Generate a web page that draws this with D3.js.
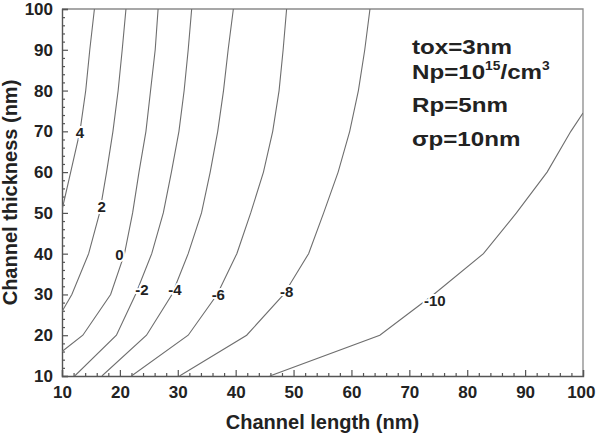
<!DOCTYPE html>
<html>
<head>
<meta charset="utf-8">
<script src="https://cdn.jsdelivr.net/npm/d3@7"></script>
<style>
  body { margin: 0; background: #fff; }
  svg text { font-family: "Liberation Sans", Arial, sans-serif; font-weight: bold; fill: #222; }
</style>
</head>
<body>
<div id="chart"></div>
<script>
// contour levels and their curves as [channel length, channel thickness] pairs (nm)
const levels = ["4", "2", "0", "-2", "-4", "-6", "-8", "-10"];
const curve4 = [[10, 50.7], [11.5, 60], [13.1, 70], [14.1, 80], [14.8, 90], [15.6, 100]];
const curve2 = [[10, 25.8], [11.7, 30], [14.6, 40], [16.5, 50], [17.7, 60], [18.8, 70], [19.7, 80], [20.4, 90], [21.05, 100]];
const curve0 = [[10, 16], [13.6, 20], [18.4, 30], [20.8, 40], [22.2, 50], [23.3, 60], [24.5, 70], [25.3, 80], [26.1, 90], [26.6, 100]];
const curveM2 = [[12.2, 10], [19.4, 20], [22.7, 30], [25.5, 40], [27.5, 50], [28.9, 60], [30.2, 70], [31.1, 80], [31.8, 90], [32.4, 100]];
const curveM4 = [[16.9, 10], [24.6, 20], [29.0, 30], [31.8, 40], [34.1, 50], [35.6, 60], [36.9, 70], [37.9, 80], [38.7, 90], [39.6, 100]];
const curveM6 = [[22.0, 10], [31.8, 20], [36.8, 30], [40.2, 40], [42.6, 50], [44.8, 60], [46.4, 70], [47.5, 80], [48.2, 90], [48.8, 100]];
const curveM8 = [[30.3, 10], [41.9, 20], [48.3, 30], [52.6, 40], [55.2, 50], [57.7, 60], [59.7, 70], [61.2, 80], [62.3, 90], [63.2, 100]];
const curveM10 = [[45.9, 10], [64.9, 20], [74.2, 30], [82.8, 40], [88.5, 50], [93.8, 60], [97.9, 70], [100, 74.5]];
const curves = [curve4, curve2, curve0, curveM2, curveM4, curveM6, curveM8, curveM10];

// where each level label sits
const labelPos = [[13.1, 69.8], [16.85, 51.5], [19.9, 39.7], [23.8, 31.1], [29.5, 31.1], [37.0, 29.9], [48.8, 30.7], [74.4, 28.6]];

const xTicks = [10, 20, 30, 40, 50, 60, 70, 80, 90, 100];
const yTicks = [10, 20, 30, 40, 50, 60, 70, 80, 90, 100];

const notes = ["tox=3nm", "Np=10", "Rp=5nm", "\u03c3p=10nm"];

const W = 596, H = 433;
const margin = {top: 9, right: 13, bottom: 57, left: 62};

const svg = d3.select("#chart").append("svg")
    .attr("width", W)
    .attr("height", H);

const x = d3.scaleLinear().domain([10, 100]).range([margin.left, W - margin.right]);
const y = d3.scaleLinear().domain([10, 100]).range([H - margin.bottom, margin.top]);

svg.append("clipPath").attr("id", "plot")
   .append("rect")
   .attr("x", margin.left).attr("y", margin.top)
   .attr("width", x(100) - x(10)).attr("height", y(10) - y(100));

// top / right frame
svg.append("path")
   .attr("d", `M${x(10)},${y(100)}H${x(100)}V${y(10)}`)
   .attr("fill", "none")
   .attr("stroke", "#8a8a8a")
   .attr("stroke-width", 1.3);

const minorVals = d3.range(10, 101, 2).filter(v => v % 10 !== 0);

// bottom axis, ticks pointing inward
const gx = svg.append("g")
   .attr("transform", `translate(0,${y(10)})`)
   .call(d3.axisBottom(x).tickValues(xTicks).tickSize(-6).tickPadding(10).tickFormat(d3.format("d")));
svg.append("g")
   .attr("transform", `translate(0,${y(10)})`)
   .call(d3.axisBottom(x).tickValues(minorVals).tickSize(-3).tickFormat(""))
   .call(g => g.select(".domain").remove());

svg.append("g")
   .attr("transform", `translate(${x(10)},0)`)
   .call(d3.axisLeft(y).tickValues(yTicks).tickSize(-6).tickPadding(9).tickFormat(d3.format("d")));
svg.append("g")
   .attr("transform", `translate(${x(10)},0)`)
   .call(d3.axisLeft(y).tickValues(minorVals).tickSize(-3).tickFormat(""))
   .call(g => g.select(".domain").remove());

svg.selectAll(".domain").attr("stroke", "#555").attr("stroke-width", 1.4);
svg.selectAll(".tick line").attr("stroke", "#555").attr("stroke-width", 1.2);
svg.selectAll(".tick text")
   .attr("font-size", 17)
   .attr("font-family", "Liberation Sans, Arial, sans-serif")
   .attr("font-weight", "bold")
   .attr("fill", "#222");

// last x label sits against the page edge
gx.selectAll(".tick text").filter(d => d === 100)
   .attr("text-anchor", "end")
   .attr("dx", 12);

// contour lines
const line = d3.line()
    .x(d => x(d[0]))
    .y(d => y(d[1]));

svg.append("g")
   .attr("clip-path", "url(#plot)")
   .selectAll("path")
   .data(curves)
   .join("path")
   .attr("fill", "none")
   .attr("stroke", "#6e6e6e")
   .attr("stroke-width", 1.1)
   .attr("d", line);

// level labels
svg.append("g")
   .selectAll("text")
   .data(levels)
   .join("text")
   .attr("x", (d, i) => x(labelPos[i][0]))
   .attr("y", (d, i) => y(labelPos[i][1]))
   .attr("dy", "0.36em")
   .attr("text-anchor", "middle")
   .attr("font-size", 15)
   .attr("stroke", "#fff")
   .attr("stroke-width", 4)
   .attr("paint-order", "stroke")
   .text(d => d);

// axis titles
svg.append("text")
   .attr("x", (x(10) + x(100)) / 2)
   .attr("y", 429)
   .attr("text-anchor", "middle")
   .attr("font-size", 20)
   .text("Channel length (nm)");

svg.append("text")
   .attr("transform", `translate(17,${(y(10) + y(100)) / 2}) rotate(-90)`)
   .attr("text-anchor", "middle")
   .attr("font-size", 20)
   .text("Channel thickness (nm)");

// parameter box
const note = svg.append("g")
   .attr("transform", "translate(412,0) scale(1.15,1)")
   .attr("font-size", 21);
const baselines = [54, 79, 112, 146];
notes.forEach((t, i) => {
  const tx = note.append("text").attr("x", 0).attr("y", baselines[i]);
  if (i === 1) {
    tx.append("tspan").text(t);
    tx.append("tspan").attr("font-size", 12).attr("dy", -9).text("15");
    tx.append("tspan").attr("dy", 9).text("/cm");
    tx.append("tspan").attr("font-size", 12).attr("dy", -9).text("3");
  } else {
    tx.text(t);
  }
});
</script>
</body>
</html>
